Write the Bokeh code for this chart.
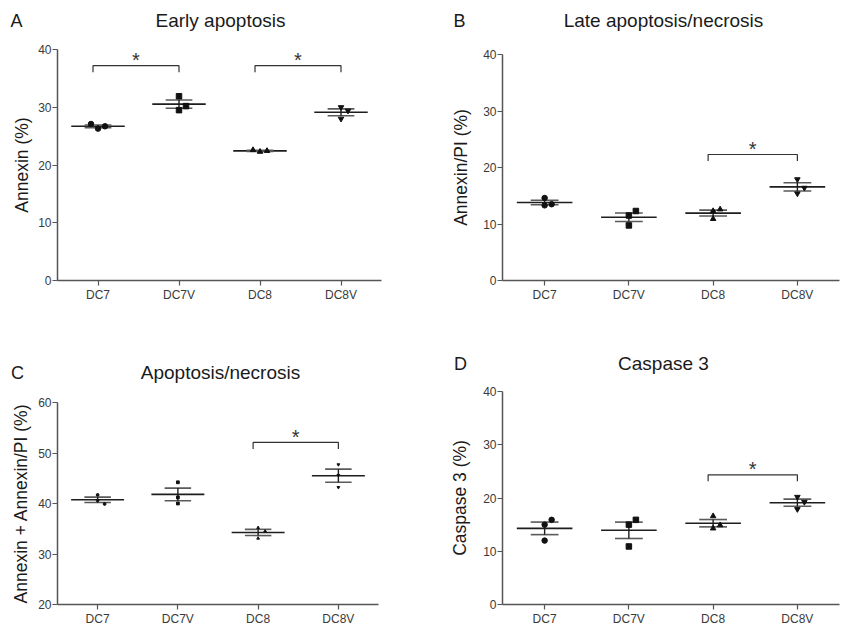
import numpy as np
from bokeh.plotting import figure
from bokeh.layouts import row, column
from bokeh.models import FixedTicker, Label, LinearAxis, Range1d
from bokeh.core.properties import value
from bokeh.embed import file_html
from bokeh.resources import INLINE

categories = ["DC7", "DC7V", "DC8", "DC8V"]

# Panel A - Early apoptosis, Annexin (%)
early_dc7 = [26.3, 26.7, 27.1]
early_dc7v = [31.9, 29.5, 30.2]
early_dc8 = [22.3, 22.45, 22.6]
early_dc8v = [30.0, 29.4, 28.0]
early_sig = [(0, 1, 37.2), (2, 3, 37.2)]

# Panel B - Late apoptosis/necrosis, Annexin/PI (%)
late_dc7 = [14.6, 13.3, 13.5]
late_dc7v = [11.5, 9.75, 12.3]
late_dc8 = [12.3, 10.9, 12.6]
late_dc8v = [17.9, 15.4, 16.4]
late_sig = [(2, 3, 22.3)]

# Panel C - Apoptosis/necrosis, Annexin + Annexin/PI (%)
total_dc7 = [41.7, 40.6, 39.9]
total_dc7v = [44.2, 41.2, 40.0]
total_dc8 = [35.2, 34.5, 33.1]
total_dc8v = [47.7, 45.6, 43.2]
total_sig = [(2, 3, 52.1)]

# Panel D - Caspase 3 (%)
casp_dc7 = [15.0, 12.0, 15.9]
casp_dc7v = [15.0, 10.9, 15.9]
casp_dc8 = [16.6, 14.3, 14.9]
casp_dc8v = [20.2, 17.9, 19.25]
casp_sig = [(2, 3, 24.35)]

yticks_ab = [0, 10, 20, 30, 40]
yticks_c = [20, 30, 40, 50, 60]

FONT = "Liberation Sans"
AXIS = "#555555"
MARKERS = ["circle", "square", "triangle", "inverted_triangle"]


def jitter(vals, uy, msize, step=7):
    placed = []
    offs = []
    for v in vals:
        chosen = 0
        for cand in (0, step, -step, 2 * step, -2 * step):
            ok = True
            for pv, po in placed:
                if po == cand and abs(v - pv) / uy < msize + 0.8:
                    ok = False
                    break
            if ok:
                chosen = cand
                break
        placed.append((v, chosen))
        offs.append(chosen)
    return np.array(offs, dtype=float)


def make_panel(W, H, groups, ylim, yticks, ylabel, title, letter, sig, box,
               msize, title_xy, letter_xy, lab_standoff):
    # box: pixel positions (left, right, top, bottom) of the axes inside the figure
    L, R, T, B = box
    y0, y1 = ylim
    ux = 4.0 / (R - L)
    uy = (y1 - y0) / (B - T)
    xs, xe = 0.5 - L * ux, 0.5 + (W - L) * ux
    ys, ye = y0 - (H - B) * uy, y1 + T * uy

    p = figure(width=W, height=H, x_range=Range1d(xs, xe), y_range=Range1d(ys, ye),
               output_backend="svg", toolbar_location=None, title=None,
               x_axis_location=None, y_axis_location=None)
    p.min_border = 0
    p.outline_line_color = None
    p.grid.visible = False
    p.background_fill_color = "white"
    p.border_fill_color = "white"

    def pt(px, py):
        return xs + px * ux, ye - py * uy

    for i, vals in enumerate(groups):
        xc = i + 1
        v = np.array(vals, dtype=float)
        m = v.mean()
        s = v.std(ddof=1) / np.sqrt(len(v))
        p.segment(x0=[xc - 0.33], y0=[m], x1=[xc + 0.33], y1=[m],
                  line_color="#1e1e1e", line_width=1.6)
        p.segment(x0=[xc - 0.165, xc - 0.165], y0=[m - s, m + s],
                  x1=[xc + 0.165, xc + 0.165], y1=[m - s, m + s],
                  line_color="#5a5a5a", line_width=1.6)
        p.segment(x0=[xc], y0=[m - s], x1=[xc], y1=[m + s],
                  line_color="#1e1e1e", line_width=1.4)
        offs = jitter(v, uy, msize)
        p.scatter(x=xc + offs * ux, y=v, marker=MARKERS[i], size=msize,
                  fill_color="#111111", line_color="#111111")

    for a, b, lvl in sig:
        tick = 6.5 * uy
        xa = a + 1 - 5 * ux
        xb = b + 1
        p.line(x=[xa, xa, xb, xb], y=[lvl - tick, lvl, lvl, lvl - tick],
               line_color="#333333", line_width=1.2)
        p.text(x=[(xa + xb) / 2], y=[lvl + 5.5 * uy], text=["*"],
               text_align="center", text_baseline="alphabetic",
               text_font=value(FONT), text_font_size="20px",
               text_color="#333333")

    tx, ty = pt(*title_xy)
    p.add_layout(Label(x=tx, y=ty, text=title,
                       text_align="center", text_baseline="middle",
                       text_font=FONT, text_font_size="19px",
                       text_color="#1a1a1a"))
    lx, ly = pt(*letter_xy)
    p.add_layout(Label(x=lx, y=ly, text=letter,
                       text_align="center", text_baseline="middle",
                       text_font=FONT, text_font_size="18px",
                       text_color="#1a1a1a"))

    xax = LinearAxis(fixed_location=y0, bounds=(0.5, 4.5),
                     ticker=FixedTicker(ticks=[1, 2, 3, 4]),
                     major_label_overrides={i + 1: c for i, c in enumerate(categories)})
    yax = LinearAxis(fixed_location=0.5, bounds=(y0, y1),
                     ticker=FixedTicker(ticks=yticks))
    p.add_layout(xax, "below")
    p.add_layout(yax, "left")
    for ax in (xax, yax):
        ax.axis_line_color = AXIS
        ax.axis_line_width = 1.5
        ax.major_tick_line_color = AXIS
        ax.major_tick_line_width = 1.2
        ax.major_tick_in = 0
        ax.major_tick_out = 5
        ax.minor_tick_line_color = None
        ax.major_label_text_font = FONT
        ax.major_label_text_font_size = "12px"
        ax.major_label_text_color = "#3a3a3a"
    xax.major_label_standoff = 2
    yax.major_label_standoff = 1
    yax.axis_label = ylabel
    yax.axis_label_text_font = FONT
    yax.axis_label_text_font_size = "17.5px"
    yax.axis_label_text_font_style = "normal"
    yax.axis_label_text_color = "#1a1a1a"
    yax.axis_label_standoff = lab_standoff
    return p


pA = make_panel(421, 314, [early_dc7, early_dc7v, early_dc8, early_dc8v], (0, 40), yticks_ab,
                "Annexin (%)", "Early apoptosis", "A", early_sig,
                (57, 381, 49, 280), 5.5, (220, 20), (16, 20), 3)
pB = make_panel(419, 314, [late_dc7, late_dc7v, late_dc8, late_dc8v], (0, 40), yticks_ab,
                "Annexin/PI (%)", "Late apoptosis/necrosis", "B", late_sig,
                (81, 418, 54, 280), 5.5, (242, 20), (38, 20), 9)
pC = make_panel(421, 314, [total_dc7, total_dc7v, total_dc8, total_dc8v], (20, 60), yticks_c,
                "Annexin + Annexin/PI (%)", "Apoptosis/necrosis", "C", total_sig,
                (57, 378, 88, 290), 2.8, (220, 58), (17, 58), 4)
pD = make_panel(419, 314, [casp_dc7, casp_dc7v, casp_dc8, casp_dc8v], (0, 40), yticks_ab,
                "Caspase 3 (%)", "Caspase 3", "D", casp_sig,
                (81, 418, 77, 290), 5.5, (242, 49), (39, 49), 10)

layout = column(row(pA, pB), row(pC, pD))
open("out.html", "w").write(file_html(layout, INLINE))
